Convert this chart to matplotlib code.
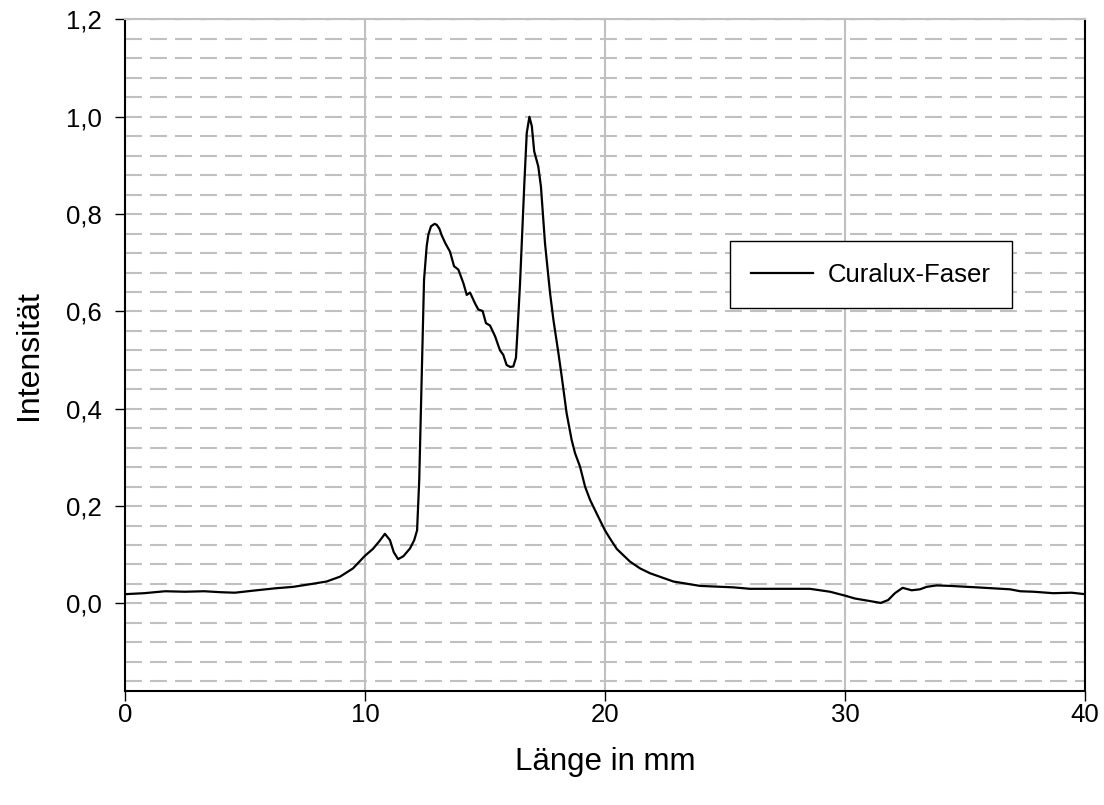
import matplotlib
matplotlib.use("Agg")
import matplotlib.pyplot as plt
from matplotlib.ticker import MultipleLocator, FixedLocator, FuncFormatter

plt.rcParams['font.family'] = ['Liberation Sans', 'DejaVu Sans']
plt.rcParams['lines.scale_dashes'] = False

# data
laenge_mm = [0.0, 0.8, 1.67, 2.5, 3.3, 4.0, 4.58, 5.3, 6.25, 7.0, 7.78, 8.4, 8.96, 9.5,
             10.0, 10.33, 10.6, 10.83, 11.04, 11.2, 11.38, 11.6, 11.875, 12.05, 12.17,
             12.26, 12.36, 12.46, 12.57, 12.64, 12.75, 12.9, 12.99, 13.1, 13.2, 13.35,
             13.54, 13.71, 13.89, 14.1, 14.24, 14.375, 14.58, 14.72, 14.9, 15.04, 15.21,
             15.42, 15.625, 15.76, 15.9, 16.05, 16.18, 16.29, 16.35, 16.46, 16.55, 16.64,
             16.74, 16.85, 16.95, 17.05, 17.22, 17.33, 17.5, 17.71, 17.85, 18.06, 18.2,
             18.4, 18.61, 18.75, 18.96, 19.17, 19.375, 19.65, 20.0, 20.2, 20.49, 21.04,
             21.46, 21.875, 22.85, 23.96, 25.35, 26.04, 27.43, 28.54, 29.375, 30.0, 30.42,
             30.9, 31.49, 31.8, 32.08, 32.4, 32.78, 33.125, 33.4, 33.82, 34.375, 35.49,
             36.875, 37.3, 37.85, 38.68, 39.44, 40.0]
intensitaet = [0.019, 0.021, 0.025, 0.024, 0.025, 0.023, 0.022, 0.026, 0.031, 0.034, 0.040,
               0.045, 0.055, 0.072, 0.098, 0.112, 0.128, 0.143, 0.130, 0.105, 0.091, 0.097,
               0.113, 0.130, 0.150, 0.254, 0.46, 0.665, 0.734, 0.758, 0.775, 0.780, 0.778,
               0.770, 0.756, 0.740, 0.723, 0.693, 0.686, 0.658, 0.634, 0.639, 0.617, 0.604,
               0.601, 0.576, 0.571, 0.549, 0.520, 0.511, 0.490, 0.486, 0.487, 0.505, 0.556,
               0.658, 0.761, 0.864, 0.967, 1.0, 0.981, 0.929, 0.898, 0.857, 0.740, 0.638,
               0.583, 0.514, 0.465, 0.391, 0.336, 0.309, 0.281, 0.240, 0.213, 0.185, 0.150,
               0.134, 0.112, 0.086, 0.072, 0.062, 0.045, 0.036, 0.033, 0.030, 0.030, 0.030,
               0.024, 0.016, 0.010, 0.006, 0.001, 0.007, 0.021, 0.032, 0.027, 0.029, 0.034,
               0.037, 0.036, 0.033, 0.029, 0.025, 0.024, 0.021, 0.022, 0.019]
series_name = "Curalux-Faser"
x_ticks = [0, 10, 20, 30, 40]
y_ticks = [0.0, 0.2, 0.4, 0.6, 0.8, 1.0, 1.2]

fig = plt.figure(figsize=(11.04, 8.05), dpi=100)
ax = fig.add_axes([125/1104, 1-691/805, 960/1104, 671.5/805])

grey = '#c0c0c0'
ax.set_xlim(0, 40)
ax.set_ylim(-0.18, 1.2)
ax.xaxis.set_major_locator(FixedLocator(x_ticks))
ax.yaxis.set_major_locator(FixedLocator(y_ticks))
ax.yaxis.set_minor_locator(MultipleLocator(0.04))
ax.yaxis.set_major_formatter(FuncFormatter(lambda v, p: f"{v:.1f}".replace('.', ',')))

ax.grid(True, which='both', axis='y', color=grey, lw=1.5, linestyle=(0, (12.2, 5.8)))
ax.grid(True, which='major', axis='x', color=grey, lw=1.5, linestyle='-')
ax.set_axisbelow(True)

ax.tick_params(axis='both', which='major', direction='out', length=7.2, width=1,
               labelsize=18.5, color='black')
ax.tick_params(axis='y', which='minor', length=0)
ax.tick_params(axis='y', pad=9.5)
ax.tick_params(axis='x', pad=1.5)

for s in ['left', 'bottom', 'right']:
    ax.spines[s].set_color('black')
    ax.spines[s].set_linewidth(1.5)
ax.spines['top'].set_color(grey)
ax.spines['top'].set_linewidth(1.5)
ax.axhline(1.2, color='black', lw=1.5, linestyle=(0, (4, 14)), zorder=1)

ax.plot(laenge_mm, intensitaet, color='black', lw=1.6, label=series_name, zorder=3)

ax.set_xlabel("Länge in mm", fontsize=22.5, labelpad=14)
ax.set_ylabel("Intensität", fontsize=23, labelpad=15.5)

leg = ax.legend(loc='upper left', bbox_to_anchor=(0.630, 0.670), borderaxespad=0,
                fontsize=18.5, frameon=True, fancybox=False, shadow=False,
                handlelength=2.4, handletextpad=0.58, borderpad=0.84)
leg.get_frame().set_edgecolor('black')
leg.get_frame().set_linewidth(1.0)
leg.get_frame().set_alpha(1)

fig.savefig("out.png", dpi=100)
